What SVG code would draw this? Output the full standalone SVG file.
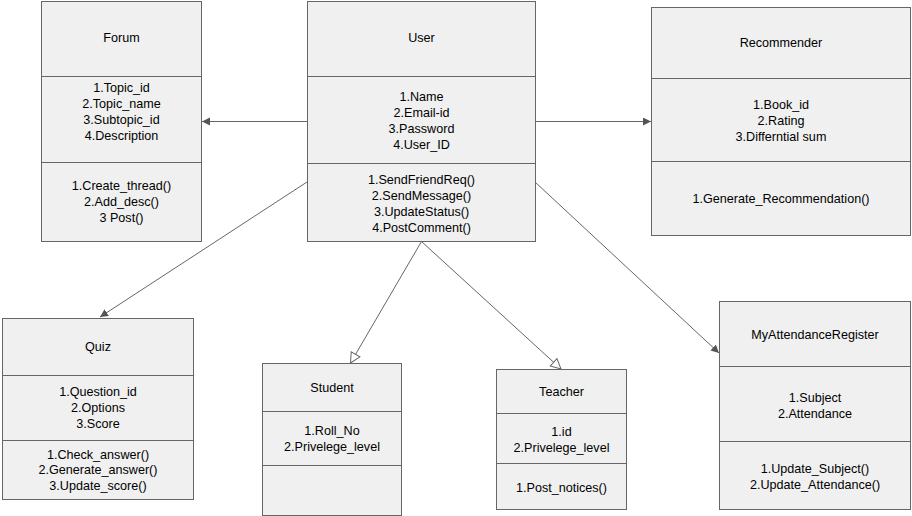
<svg xmlns="http://www.w3.org/2000/svg" width="912" height="516" viewBox="0 0 912 516">
  <defs>
    <style>
      .box { fill: #f0f0f0; stroke: #666666; stroke-width: 1; }
      .sep { stroke: #666666; stroke-width: 1; fill: none; }
      .txt { font-family: "Liberation Sans", Arial, sans-serif; font-size: 12.6px; fill: #000000; text-anchor: middle; }
      .edge { stroke: #666666; stroke-width: 1; fill: none; }
    </style>
    <marker id="arrow" markerUnits="userSpaceOnUse" markerWidth="10" markerHeight="10" refX="8" refY="4" orient="auto">
      <path d="M0,0 L8,4 L0,8 Z" fill="#555555"/>
    </marker>
    <marker id="inherit" markerUnits="userSpaceOnUse" markerWidth="14" markerHeight="14" refX="11" refY="6" orient="auto">
      <path d="M1,1 L11,6 L1,11 Z" fill="#ffffff" stroke="#666666" stroke-width="1"/>
    </marker>
  </defs>

  <rect width="912" height="516" fill="#ffffff"/>

  <!-- associations and generalizations -->
  <g id="connectors">
    <line class="edge" x1="307" y1="121.5" x2="202" y2="121.5" marker-end="url(#arrow)"/>
    <line class="edge" x1="535" y1="121.5" x2="651" y2="121.5" marker-end="url(#arrow)"/>
    <line class="edge" x1="307" y1="182" x2="100" y2="317" marker-end="url(#arrow)"/>
    <line class="edge" x1="421.5" y1="241.5" x2="350.5" y2="363" marker-end="url(#inherit)"/>
    <line class="edge" x1="421.5" y1="241.5" x2="561" y2="369" marker-end="url(#inherit)"/>
    <line class="edge" x1="535" y1="182" x2="719" y2="353" marker-end="url(#arrow)"/>
  </g>

  <g id="forum">
    <rect class="box" x="41.5" y="1.5" width="160" height="240"/>
    <line class="sep" x1="41.5" y1="76.5" x2="201.5" y2="76.5"/>
    <line class="sep" x1="41.5" y1="162.5" x2="201.5" y2="162.5"/>
    <text class="txt" x="121.5" y="41.5">Forum</text>
    <text class="txt" x="121.5" y="91.5">1.Topic_id</text>
    <text class="txt" x="121.5" y="107.5">2.Topic_name</text>
    <text class="txt" x="121.5" y="123.5">3.Subtopic_id</text>
    <text class="txt" x="121.5" y="139.5">4.Description</text>
    <text class="txt" x="121.5" y="189.5">1.Create_thread()</text>
    <text class="txt" x="121.5" y="205.5">2.Add_desc()</text>
    <text class="txt" x="121.5" y="221.5">3 Post()</text>
  </g>

  <g id="user">
    <rect class="box" x="307.5" y="1.5" width="228" height="240"/>
    <line class="sep" x1="307.5" y1="76.5" x2="535.5" y2="76.5"/>
    <line class="sep" x1="307.5" y1="163.5" x2="535.5" y2="163.5"/>
    <text class="txt" x="421.5" y="41.5">User</text>
    <text class="txt" x="421.5" y="101">1.Name</text>
    <text class="txt" x="421.5" y="117">2.Email-id</text>
    <text class="txt" x="421.5" y="133">3.Password</text>
    <text class="txt" x="421.5" y="149">4.User_ID</text>
    <text class="txt" x="421.5" y="183.5">1.SendFriendReq()</text>
    <text class="txt" x="421.5" y="199.5">2.SendMessage()</text>
    <text class="txt" x="421.5" y="215.5">3.UpdateStatus()</text>
    <text class="txt" x="421.5" y="231.5">4.PostComment()</text>
  </g>

  <g id="recommender">
    <rect class="box" x="651.5" y="7.5" width="259" height="228"/>
    <line class="sep" x1="651.5" y1="78.5" x2="910.5" y2="78.5"/>
    <line class="sep" x1="651.5" y1="161.5" x2="910.5" y2="161.5"/>
    <text class="txt" x="781" y="46.5">Recommender</text>
    <text class="txt" x="781" y="108.5">1.Book_id</text>
    <text class="txt" x="781" y="124.5">2.Rating</text>
    <text class="txt" x="781" y="140.5">3.Differntial sum</text>
    <text class="txt" x="781" y="202.5">1.Generate_Recommendation()</text>
  </g>

  <g id="quiz">
    <rect class="box" x="2.5" y="318.5" width="191" height="181"/>
    <line class="sep" x1="2.5" y1="375.5" x2="193.5" y2="375.5"/>
    <line class="sep" x1="2.5" y1="440.5" x2="193.5" y2="440.5"/>
    <text class="txt" x="98" y="350.5">Quiz</text>
    <text class="txt" x="98" y="395.5">1.Question_id</text>
    <text class="txt" x="98" y="411.5">2.Options</text>
    <text class="txt" x="98" y="427.5">3.Score</text>
    <text class="txt" x="98" y="458.5">1.Check_answer()</text>
    <text class="txt" x="98" y="474">2.Generate_answer()</text>
    <text class="txt" x="98" y="489.5">3.Update_score()</text>
  </g>

  <g id="student">
    <rect class="box" x="262.5" y="363.5" width="139" height="152"/>
    <line class="sep" x1="262.5" y1="411.5" x2="401.5" y2="411.5"/>
    <line class="sep" x1="262.5" y1="465.5" x2="401.5" y2="465.5"/>
    <text class="txt" x="332" y="391.5">Student</text>
    <text class="txt" x="332" y="435">1.Roll_No</text>
    <text class="txt" x="332" y="451">2.Privelege_level</text>
  </g>

  <g id="teacher">
    <rect class="box" x="496.5" y="369.5" width="130" height="140"/>
    <line class="sep" x1="496.5" y1="413.5" x2="626.5" y2="413.5"/>
    <line class="sep" x1="496.5" y1="463.5" x2="626.5" y2="463.5"/>
    <text class="txt" x="561.5" y="395.5">Teacher</text>
    <text class="txt" x="561.5" y="435.5">1.id</text>
    <text class="txt" x="561.5" y="451.5">2.Privelege_level</text>
    <text class="txt" x="561.5" y="491.5">1.Post_notices()</text>
  </g>

  <g id="attendance-register">
    <rect class="box" x="719.5" y="301.5" width="191" height="208"/>
    <line class="sep" x1="719.5" y1="366.5" x2="910.5" y2="366.5"/>
    <line class="sep" x1="719.5" y1="441.5" x2="910.5" y2="441.5"/>
    <text class="txt" x="815" y="338.5">MyAttendanceRegister</text>
    <text class="txt" x="815" y="401.5">1.Subject</text>
    <text class="txt" x="815" y="417.5">2.Attendance</text>
    <text class="txt" x="815" y="472.5">1.Update_Subject()</text>
    <text class="txt" x="815" y="488.5">2.Update_Attendance()</text>
  </g>
</svg>
